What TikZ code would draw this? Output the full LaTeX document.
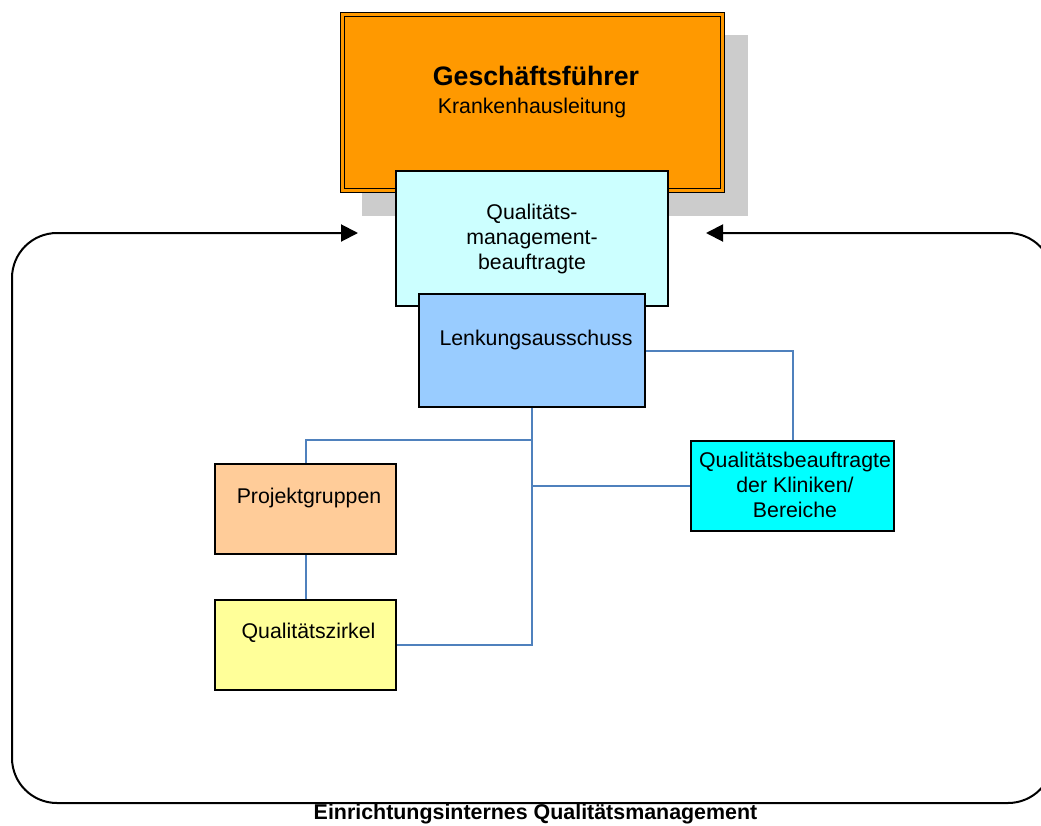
\documentclass[tikz,border=0pt]{standalone}
\usepackage{fontspec}
\setmainfont{Liberation Sans}
\usetikzlibrary{arrows.meta}
\definecolor{chefOrange}{HTML}{FF9900}
\definecolor{qmbCyan}{HTML}{CCFFFF}
\definecolor{lenkBlue}{HTML}{99CCFF}
\definecolor{projPeach}{HTML}{FFCC99}
\definecolor{zirkYellow}{HTML}{FFFF99}
\definecolor{qbCyan}{HTML}{00FFFF}
\definecolor{connBlue}{HTML}{4F81BD}
\definecolor{shadowGray}{HTML}{CCCCCC}
\begin{document}
\begin{tikzpicture}[x=1pt,y=-1pt,
  orgbox/.style={draw=black, line width=1.5pt, rectangle, inner sep=0pt},
  lbl/.style={font=\fontsize{21.3}{25}\selectfont, inner sep=0pt, anchor=base},
  mlbl/.style={font=\fontsize{21.3}{25}\selectfont, inner sep=0pt, align=center},
  conn/.style={draw=connBlue, line width=2pt},
  ringline/.style={draw=black, line width=2pt, rounded corners=45pt,
    {Triangle[length=17pt,width=17pt]}-{Triangle[length=17pt,width=17pt]}}]
\useasboundingbox (0,0) rectangle (1041,825);
\clip (0,0) rectangle (1041,825);

% Top management with shadow and double frame
\fill[shadowGray] (362,35) rectangle (748,216);
\node[orgbox, fill=chefOrange, double=chefOrange, double distance=2.4pt, line width=1.6pt,
  minimum width=380pt, minimum height=176pt] (chef) at (532.5,102.5) {};
\node[lbl, font=\fontsize{26.7}{30}\selectfont\bfseries] (chefT) at (536,85) {Geschäftsführer};
\node[lbl] (chefS) at (532,113) {Krankenhausleitung};

% Stacked boxes in the middle
\node[orgbox, fill=qmbCyan, minimum width=272pt, minimum height=135pt] (qmb) at (532,238.5) {};
\node[mlbl] (qmbT) at (532,238.5) {Qualitäts-\\management-\\beauftragte};
\node[orgbox, fill=lenkBlue, minimum width=226pt, minimum height=113pt] (lenk) at (532,350.5) {};
\node[lbl] (lenkT) at (536,345) {Lenkungsausschuss};

% Groups below
\node[orgbox, fill=projPeach, minimum width=181pt, minimum height=90pt] (proj) at (305.5,509) {};
\node[lbl] (projT) at (309,503) {Projektgruppen};
\node[orgbox, fill=zirkYellow, minimum width=181pt, minimum height=90pt] (zirk) at (305.5,645) {};
\node[lbl] (zirkT) at (308.5,638) {Qualitätszirkel};
\node[orgbox, fill=qbCyan, minimum width=203pt, minimum height=90pt] (qb) at (792.5,486) {};
\node[mlbl] (qbT) at (795,485) {Qualitätsbeauftragte\\der Kliniken/\\Bereiche};

% Blue connectors
\draw[conn] (lenk.south) -- (lenk.south |- zirk.east) -- (zirk.east);
\draw[conn] (lenk.south |- qb.north) -- (proj.north |- qb.north) -- (proj.north);
\draw[conn] (lenk.south |- qb.west) -- (qb.west);
\draw[conn] (lenk.east) -- (lenk.east -| qb.north) -- (qb.north);
\draw[conn] (proj.south) -- (zirk.north);

% Feedback loop round the whole system
\coordinate (inL) at (358,233);
\coordinate (inR) at (706,233);
\draw[ringline] (inL) -- (12,233) -- (12,803) -- (1053,803) -- (1053,233) -- (inR);
\node[lbl, font=\fontsize{21.4}{25}\selectfont\bfseries] (title) at (535.5,819.5)
  {Einrichtungsinternes Qualitätsmanagement};
\end{tikzpicture}
\end{document}
